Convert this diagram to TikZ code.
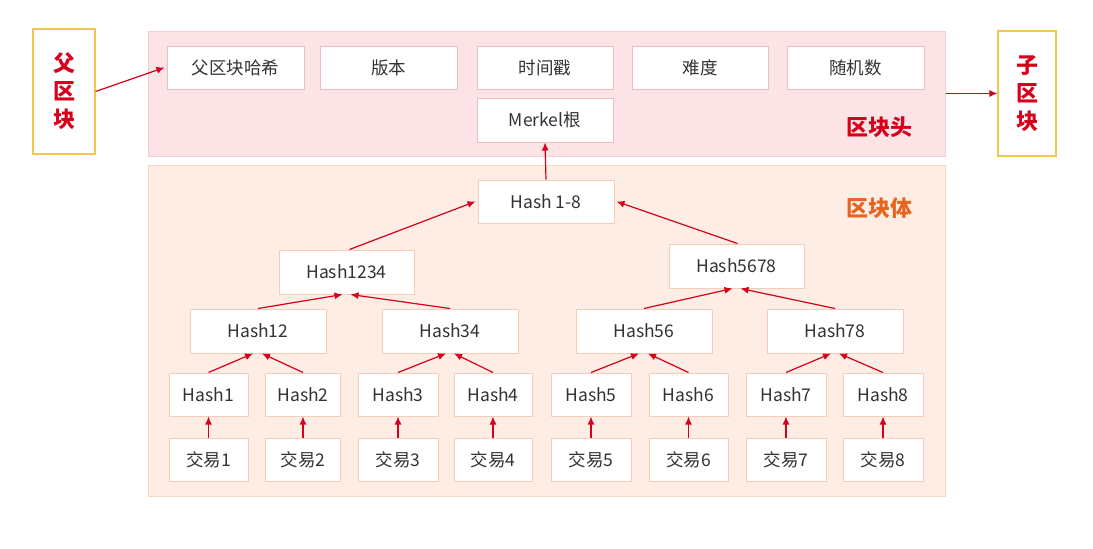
\documentclass[tikz,border=0pt]{standalone}
\usepackage{fontspec}
\setmainfont{Noto Sans CJK SC}
\usetikzlibrary{arrows.meta}
\definecolor{hdrfill}{HTML}{FBE3E6}
\definecolor{hdrline}{HTML}{F5CDD3}
\definecolor{bodyfill}{HTML}{FDEDE5}
\definecolor{bodyline}{HTML}{F8D6C6}
\definecolor{hboxline}{HTML}{F0BCC4}
\definecolor{bboxline}{HTML}{F5CCB8}
\definecolor{arrred}{HTML}{D7001B}
\definecolor{titred}{HTML}{D7001B}
\definecolor{titorange}{HTML}{E8641E}
\definecolor{sidegold}{HTML}{F2C84A}
\definecolor{txt}{HTML}{333333}
\tikzset{
  hbox/.style={draw=hboxline, line width=1pt, fill=white, minimum height=43pt, inner sep=0pt, font=\fontsize{17.5}{20}\selectfont, text=txt},
  bbox/.style={draw=bboxline, line width=1pt, fill=white, minimum height=43pt, inner sep=0pt, font=\fontsize{17.5}{20}\selectfont, text=txt},
  side/.style={draw=sidegold, line width=1.2pt, fill=white, minimum width=62pt, minimum height=125pt, inner sep=0pt, align=center, text=titred, font=\fontsize{22}{28}\selectfont\bfseries},
  conn/.style={draw=arrred, line width=1.2pt, -{Latex[length=8pt,width=7pt]}},
}
\begin{document}
\begin{tikzpicture}[x=1pt,y=-1pt]
\useasboundingbox (0,0) rectangle (1093,549);
\fill[white] (0,0) rectangle (1093,549);
% header and body panels
\node[draw=hdrline, fill=hdrfill, line width=1pt, minimum width=797pt, minimum height=125pt, inner sep=0pt] (hdr) at (546.5,93.5) {};
\node[draw=bodyline, fill=bodyfill, line width=1pt, minimum width=797pt, minimum height=331pt, inner sep=0pt] (body) at (546.5,330.5) {};
\node[text=titred, font=\fontsize{22}{24}\selectfont\bfseries] (hdrtitle) at (879,127) {区块头};
\node[text=titorange, font=\fontsize{22}{24}\selectfont\bfseries] (bodytitle) at (879,208) {区块体};
% side blocks
\node[side] (parent) at (64,91.5) {父\\区\\块};
\node[side, minimum width=58pt] (child) at (1027,93.5) {子\\区\\块};
% header fields
\node[hbox, minimum width=137pt] (f1) at (235.5,67.5) {父区块哈希};
\node[hbox, minimum width=137pt] (f2) at (388.5,67.5) {版本};
\node[hbox, minimum width=136pt] (f3) at (545,67.5) {时间戳};
\node[hbox, minimum width=136pt] (f4) at (700,67.5) {难度};
\node[hbox, minimum width=137pt] (f5) at (855.5,67.5) {随机数};
\node[hbox, minimum width=136pt, minimum height=44pt] (merkle) at (545,120) {Merkel根};
% tree
\node[bbox, minimum width=136pt] (h18) at (546,201.5) {Hash 1-8};
\node[bbox, minimum width=135pt, minimum height=44pt] (h1234) at (346.5,272) {Hash1234};
\node[bbox, minimum width=135pt, minimum height=44pt] (h5678) at (736.5,266) {Hash5678};
\node[bbox, minimum width=136pt, minimum height=44pt] (h12) at (258,331) {Hash12};
\node[bbox, minimum width=136pt, minimum height=44pt] (h34) at (450,331) {Hash34};
\node[bbox, minimum width=136pt, minimum height=44pt] (h56) at (644,331) {Hash56};
\node[bbox, minimum width=136pt, minimum height=44pt] (h78) at (835,331) {Hash78};
\node[bbox, minimum width=79pt] (h1) at (208.5,394.5) {Hash1};
\node[bbox, minimum width=75pt] (h2) at (303,394.5) {Hash2};
\node[bbox, minimum width=80pt] (h3) at (398,394.5) {Hash3};
\node[bbox, minimum width=78pt] (h4) at (493,394.5) {Hash4};
\node[bbox, minimum width=80pt] (h5) at (591,394.5) {Hash5};
\node[bbox, minimum width=79pt] (h6) at (688.5,394.5) {Hash6};
\node[bbox, minimum width=80pt] (h7) at (786,394.5) {Hash7};
\node[bbox, minimum width=80pt] (h8) at (883,394.5) {Hash8};
\node[bbox, minimum width=79pt] (t1) at (208.5,459.5) {交易1};
\node[bbox, minimum width=75pt] (t2) at (303,459.5) {交易2};
\node[bbox, minimum width=80pt] (t3) at (398,459.5) {交易3};
\node[bbox, minimum width=78pt] (t4) at (493,459.5) {交易4};
\node[bbox, minimum width=80pt] (t5) at (591,459.5) {交易5};
\node[bbox, minimum width=79pt] (t6) at (688.5,459.5) {交易6};
\node[bbox, minimum width=80pt] (t7) at (786,459.5) {交易7};
\node[bbox, minimum width=80pt] (t8) at (883,459.5) {交易8};
% connectors
\draw[conn] (parent.east) -- ([xshift=-2pt]f1.west);
\draw[conn] (hdr.east) -- (child.west);
\draw[conn] (h18.north) -- (merkle.south);
\draw[conn] ([xshift=3pt]h1234.north) -- ([xshift=-2pt]h18.west);
\draw[conn] ([xshift=1pt]h5678.north) -- ([xshift=2pt]h18.east);
\foreach \c/\p/\s in {h12/h1234/-4, h34/h1234/4, h56/h5678/-4, h78/h5678/4,
                      h1/h12/-5, h2/h12/4, h3/h34/-4, h4/h34/4,
                      h5/h56/-5, h6/h56/4, h7/h78/-4, h8/h78/4}{
  \draw[conn] (\c.north) -- ([xshift=\s pt]\p.south);
}
\foreach \i in {1,...,8}{
  \draw[conn] (t\i.north) -- (h\i.south);
}
\end{tikzpicture}
\end{document}
